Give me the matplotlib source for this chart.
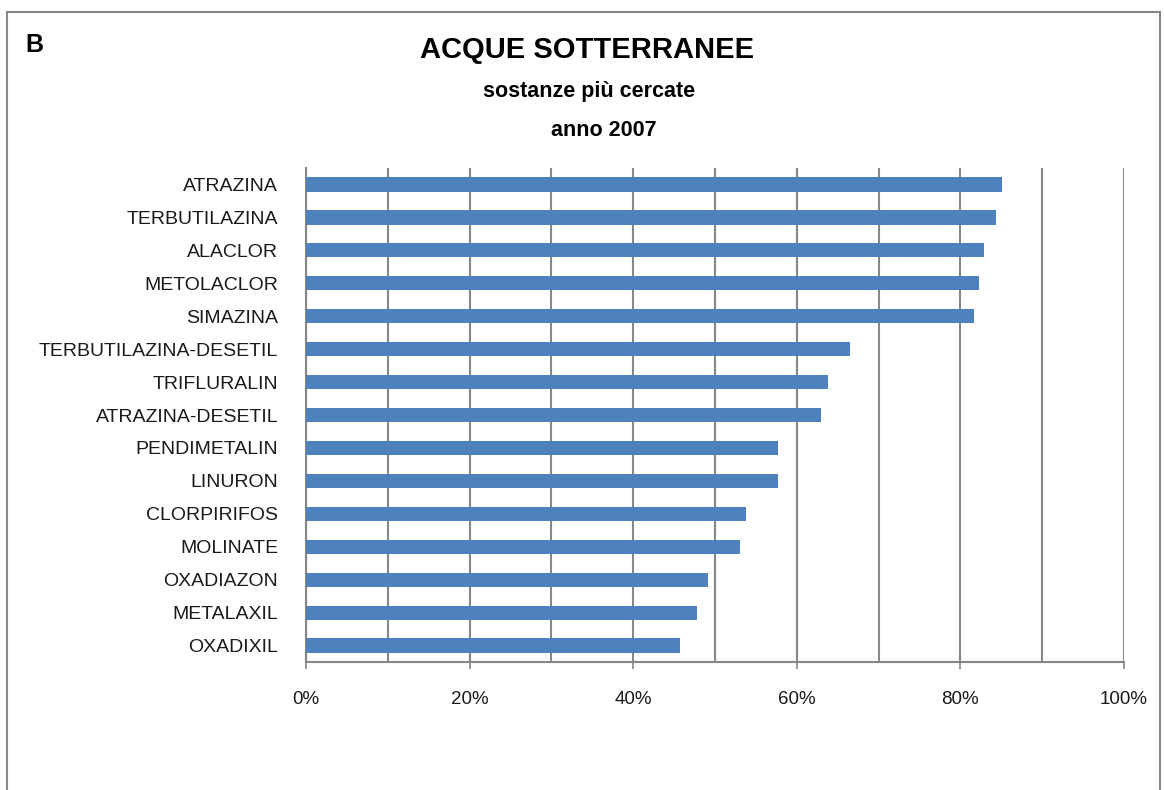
import matplotlib
matplotlib.use("Agg")
import matplotlib.pyplot as plt
import numpy as np
from matplotlib.patches import Rectangle
from matplotlib.ticker import MultipleLocator, PercentFormatter

# substances, top to bottom as in the chart
substances = [
    "ATRAZINA", "TERBUTILAZINA", "ALACLOR", "METOLACLOR", "SIMAZINA",
    "TERBUTILAZINA-DESETIL", "TRIFLURALIN", "ATRAZINA-DESETIL", "PENDIMETALIN",
    "LINURON", "CLORPIRIFOS", "MOLINATE", "OXADIAZON", "METALAXIL", "OXADIXIL",
]
# share of stations where the substance was searched (%)
share = [85.1, 84.3, 82.9, 82.3, 81.7, 66.5, 63.8, 62.9, 57.7, 57.7,
         53.8, 53.1, 49.1, 47.8, 45.7]

plt.rcParams['font.family'] = ['Liberation Sans', 'DejaVu Sans']

fig = plt.figure(figsize=(11.64, 7.90), dpi=100)
ax = fig.add_axes([0.2629, 0.162, 0.7027, 0.6253])

y = np.arange(len(substances))
ax.barh(y, share, height=0.43, color="#4F81BD", zorder=3)

ax.set_ylim(len(substances) - 0.5, -0.5)
ax.set_yticks(y)
ax.set_yticklabels(substances, fontsize=14, color="#1a1a1a")
ax.tick_params(axis='y', length=0, pad=20)

ax.set_xlim(0, 100)
ax.xaxis.set_major_locator(MultipleLocator(20))
ax.xaxis.set_minor_locator(MultipleLocator(10))
ax.xaxis.set_major_formatter(PercentFormatter(decimals=0))
ax.tick_params(axis='x', which='major', length=5, width=1.2, color="#868686",
               labelsize=13.5, labelcolor="#1a1a1a", pad=16)
ax.tick_params(axis='x', which='minor', length=0)
ax.grid(axis='x', which='both', color="#868686", linewidth=1.5, zorder=0)

for side in ("top", "right"):
    ax.spines[side].set_visible(False)
for side in ("left", "bottom"):
    ax.spines[side].set_color("#868686")
    ax.spines[side].set_linewidth(1.5)

# outer frame of the chart
fig.patches.append(Rectangle((7 / 1164, -0.05), (1160 - 7) / 1164, 1.05 - 12 / 790,
                             transform=fig.transFigure, fill=False,
                             edgecolor="#868686", linewidth=1.5))

fig.text(25 / 1164, 1 - 45 / 790, "B", fontsize=18, fontweight='bold', va='center')
fig.text(587 / 1164, 1 - 50 / 790, "ACQUE SOTTERRANEE", fontsize=21,
         fontweight='bold', ha='center', va='center')
fig.text(589 / 1164, 1 - 92 / 790, "sostanze più cercate", fontsize=15.5,
         fontweight='bold', ha='center', va='center')
fig.text(604 / 1164, 1 - 131 / 790, "anno 2007", fontsize=15.5,
         fontweight='bold', ha='center', va='center')

fig.savefig("out.png", dpi=100)
